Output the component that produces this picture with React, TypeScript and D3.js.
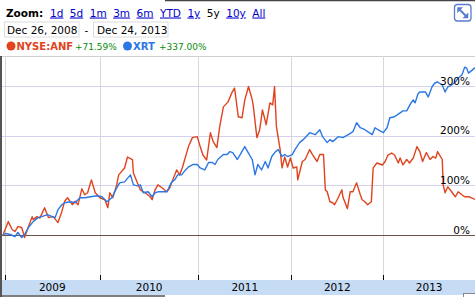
import React from "react";
import * as d3 from "d3";

// ---- data (decimal year, % change) ----
const anfYears = [2008.985,2009.04,2009.08,2009.11,2009.14,2009.18,2009.21,2009.24,2009.29,2009.30,2009.34,2009.37,2009.42,2009.46,2009.51,2009.56,2009.60,2009.63,2009.66,2009.71,2009.74,2009.77,2009.81,2009.84,2009.87,2009.91,2009.95,2010.00,2010.05,2010.08,2010.10,2010.13,2010.17,2010.19,2010.25,2010.28,2010.33,2010.34,2010.38,2010.41,2010.46,2010.51,2010.53,2010.56,2010.59,2010.63,2010.68,2010.71,2010.74,2010.78,2010.81,2010.84,2010.90,2010.94,2010.99,2011.02,2011.05,2011.09,2011.13,2011.16,2011.20,2011.23,2011.27,2011.32,2011.36,2011.39,2011.43,2011.47,2011.50,2011.54,2011.58,2011.59,2011.63,2011.66,2011.69,2011.73,2011.77,2011.80,2011.82,2011.84,2011.88,2011.90,2011.93,2011.96,2011.99,2012.02,2012.06,2012.07,2012.12,2012.15,2012.20,2012.23,2012.28,2012.31,2012.35,2012.37,2012.39,2012.42,2012.45,2012.47,2012.51,2012.55,2012.56,2012.61,2012.64,2012.67,2012.71,2012.75,2012.77,2012.80,2012.83,2012.87,2012.89,2012.93,2012.99,2013.02,2013.05,2013.09,2013.12,2013.16,2013.18,2013.21,2013.25,2013.28,2013.32,2013.36,2013.39,2013.42,2013.46,2013.50,2013.53,2013.56,2013.58,2013.63,2013.64,2013.66,2013.69,2013.73,2013.77,2013.80,2013.84,2013.87,2013.92,2013.98];
const anfValues = [0,27,11,7,17,15,-5,11,37,31,37,34,55,35,37,25,47,68,75,61,68,61,93,81,85,111,85,75,71,55,85,75,101,121,135,157,152,125,105,91,85,77,71,91,101,95,87,95,111,131,121,137,178,196,198,178,161,151,206,188,176,218,258,268,286,296,238,236,272,299,272,262,196,212,252,222,266,262,299,218,172,135,157,137,155,135,137,111,148,152,172,162,148,162,162,91,87,67,65,61,75,91,77,53,87,87,105,81,71,67,61,67,135,145,141,148,161,165,161,145,155,141,152,145,155,178,168,148,166,152,158,155,168,152,101,85,97,87,77,87,81,77,77,71.59];

const xrtYears = [2008.985,2009.01,2009.06,2009.11,2009.14,2009.18,2009.21,2009.25,2009.30,2009.35,2009.39,2009.45,2009.50,2009.53,2009.56,2009.60,2009.63,2009.69,2009.74,2009.79,2009.84,2009.90,2009.97,2010.02,2010.07,2010.12,2010.17,2010.20,2010.25,2010.31,2010.34,2010.38,2010.41,2010.44,2010.49,2010.53,2010.56,2010.59,2010.63,2010.68,2010.73,2010.76,2010.79,2010.83,2010.87,2010.90,2010.95,2010.99,2011.02,2011.07,2011.11,2011.15,2011.18,2011.21,2011.27,2011.31,2011.34,2011.37,2011.42,2011.45,2011.50,2011.53,2011.58,2011.61,2011.64,2011.68,2011.72,2011.75,2011.79,2011.83,2011.86,2011.90,2011.93,2011.96,2012.01,2012.04,2012.09,2012.13,2012.15,2012.20,2012.26,2012.31,2012.34,2012.39,2012.42,2012.45,2012.51,2012.56,2012.62,2012.67,2012.71,2012.75,2012.80,2012.83,2012.88,2012.91,2012.96,2013.00,2013.04,2013.07,2013.12,2013.18,2013.21,2013.25,2013.29,2013.32,2013.34,2013.37,2013.39,2013.45,2013.48,2013.52,2013.55,2013.58,2013.63,2013.66,2013.69,2013.73,2013.77,2013.80,2013.84,2013.87,2013.89,2013.91,2013.95,2013.98];
const xrtValues = [0,3,1,-3,5,-5,1,15,27,35,37,41,37,35,51,61,65,67,65,75,75,77,79,77,67,75,95,105,107,121,101,99,101,85,87,77,85,87,87,87,107,111,121,121,131,137,142,142,135,131,146,146,142,152,162,162,168,166,152,162,178,168,152,121,142,131,148,135,158,168,172,158,162,158,162,172,186,192,196,206,202,212,198,186,192,188,198,196,202,208,226,216,212,208,202,216,210,206,216,236,238,246,250,250,264,272,266,284,288,288,278,298,306,308,302,288,298,302,308,316,322,338,336,326,332,337];

const yTicks = [0, 100, 200, 300];
const yearTicks = [2009, 2010, 2011, 2012, 2013];
const zoomLinks = ["1d", "5d", "1m", "3m", "6m", "YTD", "1y", "5y", "10y", "All"];
const activeLink = "5y";
const seriesNames = ["NYSE:ANF", "XRT"];
const seriesChanges = ["+71.59%", "+337.00%"];
const dateFrom = "Dec 26, 2008";
const dateTo = "Dec 24, 2013";

const W = 475, H = 297;
const RED = "#e0431d";
const BLUE = "#2b78e4";
const FONT = "'DejaVu Sans', Verdana, sans-serif";

export default function App() {
  const x = d3.scaleLinear()
    .domain([2008.985, 2009, 2010, 2011, 2012, 2013, 2013.98])
    .range([3, 4.5, 100, 198.3, 291.3, 383.3, 475]);
  const y = d3.scaleLinear().domain([0, 300]).range([235, 86]);

  const line = d3.line<[number, number]>().x(d => x(d[0])).y(d => y(d[1]));
  const anf = anfYears.map((t, i) => [t, anfValues[i]] as [number, number]);
  const xrt = xrtYears.map((t, i) => [t, xrtValues[i]] as [number, number]);

  const plotTop = 56, bandTop = 280, bandBottom = 295;
  const xEnd = x(2013.98);

  return (
    <svg width={W} height={H} style={{ position: "absolute", left: 0, top: 0, display: "block", background: "#fff" }} fontFamily={FONT}>
      {/* frame bits */}
      <line x1={165} x2={W} y1={0.5} y2={0.5} stroke="#444" strokeWidth={1.5} />
      <rect x={0} y={plotTop} width={2} height={H - plotTop} fill="#555" />
      <line x1={0} x2={165} y1={296} y2={296} stroke="#555" strokeWidth={1.5} />

      {/* header */}
      <text x={6} y={16.5} fontSize={10.5} fontWeight="bold" fill="#000">Zoom:</text>
      <text x={50} y={16.5} fontSize={10.5}>
        {zoomLinks.map((l, i) => (
          <tspan key={l} dx={i === 0 ? 0 : 6.5} fill={l === activeLink ? "#000" : "#0000cc"}
            textDecoration={l === activeLink ? "none" : "underline"}>{l}</tspan>
        ))}
      </text>
      <rect x={4.5} y={22} width={74.5} height={15} fill="#fff" stroke="#dcdcdc" />
      <rect x={93.5} y={22} width={74.5} height={15} fill="#fff" stroke="#dcdcdc" />
      <text x={7} y={33.5} fontSize={10.5} fill="#000">{dateFrom}</text>
      <text x={84.5} y={33.5} fontSize={10.5} fill="#000">-</text>
      <text x={97} y={33.5} fontSize={10.5} fill="#000">{dateTo}</text>

      {/* legend */}
      <circle cx={11} cy={46} r={4.5} fill={RED} />
      <text x={16.5} y={50} fontSize={10} fontWeight="bold" fill={RED}>{seriesNames[0]}</text>
      <text x={75} y={50} fontSize={9} fill="#0a8a0a">{seriesChanges[0]}</text>
      <circle cx={127.5} cy={46} r={4.5} fill={BLUE} />
      <text x={133} y={50} fontSize={10} fontWeight="bold" fill={BLUE}>{seriesNames[1]}</text>
      <text x={159} y={50} fontSize={9} fill="#0a8a0a">{seriesChanges[1]}</text>

      {/* expand icon */}
      <g stroke="#5b7bd1" fill="none">
        <rect x={454.5} y={4.5} width={16.5} height={16.5} rx={3} strokeWidth={1.3} />
        <line x1={458.5} y1={8.5} x2={467} y2={17} strokeWidth={2} />
        <path d="M457.5 7.5 L462.5 7.5 L457.5 12.5 Z" fill="#5b7bd1" strokeWidth={0.5} />
        <path d="M468 18 L463 18 L468 13 Z" fill="#5b7bd1" strokeWidth={0.5} />
      </g>

      {/* plot */}
      <line x1={2} x2={W} y1={plotTop + 0.5} y2={plotTop + 0.5} stroke="#cfcfcf" />
      {yTicks.filter(v => v !== 0).map(v => (
        <line key={v} x1={2} x2={W} y1={Math.round(y(v)) + 0.5} y2={Math.round(y(v)) + 0.5} stroke="#d2d2ee" />
      ))}
      {yearTicks.map(t => (
        <line key={t} x1={Math.round(x(t)) + 0.5} x2={Math.round(x(t)) + 0.5} y1={plotTop} y2={bandTop - 5}
          stroke={t < 2011 ? "#d3dcd3" : "#d8d8d8"} />
      ))}
      <line x1={0} x2={W} y1={Math.round(y(0)) + 0.5} y2={Math.round(y(0)) + 0.5} stroke="#70504c" />

      <path d={line(anf) || ""} fill="none" stroke={RED} strokeWidth={1.4} strokeLinejoin="round" />
      <path d={line(xrt) || ""} fill="none" stroke={BLUE} strokeWidth={1.4} strokeLinejoin="round" />

      {yTicks.map(v => (
        <text key={v} x={470} y={y(v) - 1.5} fontSize={10.5} textAnchor="end" fill="#000">{v}%</text>
      ))}

      {/* x band */}
      <rect x={2} y={bandTop} width={W - 2} height={bandBottom - bandTop} fill="#c6dbf4" />
      {yearTicks.map(t => (
        <line key={t} x1={Math.round(x(t)) + 0.5} x2={Math.round(x(t)) + 0.5} y1={bandTop - 5} y2={bandTop} stroke="#000" />
      ))}
      {yearTicks.map(t => (
        <text key={t} x={(x(t) + Math.min(xEnd, x(t + 1 > 2013.98 ? 2013.98 : t + 1))) / 2} y={291} fontSize={10.5}
          textAnchor="middle" fill="#000">{t}</text>
      ))}
      <rect x={463.5} y={293.5} width={12} height={5} fill="#fff" stroke="#888" />
    </svg>
  );
}
